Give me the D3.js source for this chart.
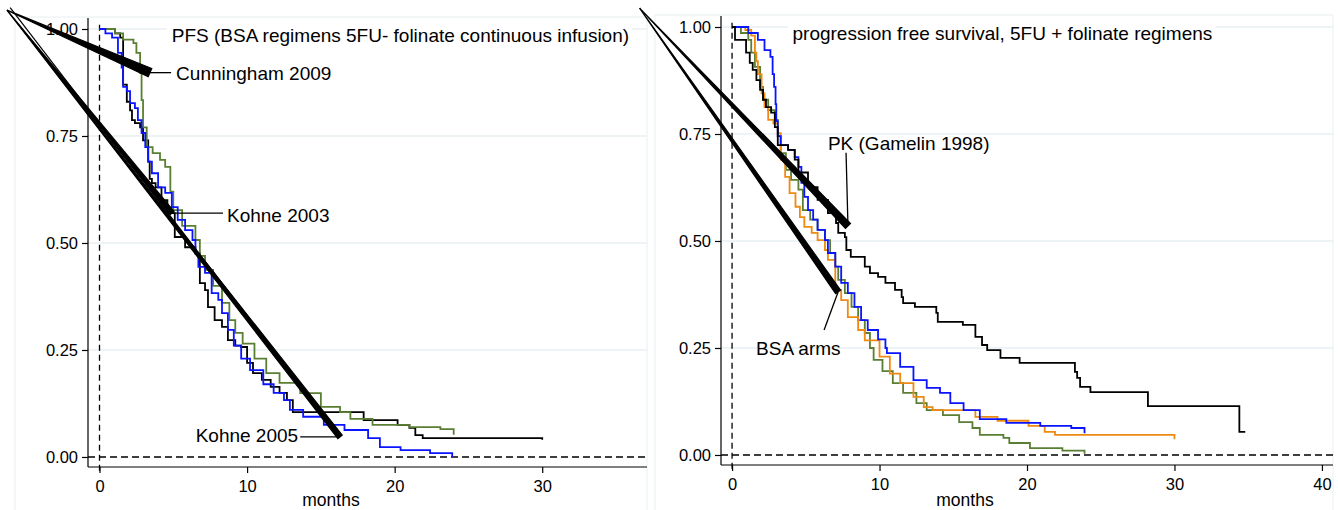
<!DOCTYPE html>
<html>
<head>
<meta charset="utf-8">
<script src="https://cdn.jsdelivr.net/npm/d3@7"></script>
<style>
  body { margin: 0; background: #fff; }
  svg { display: block; font-family: "Liberation Sans", Arial, sans-serif; }
</style>
</head>
<body>
<div id="chart"></div>
<script>
// ---- data (months, survival proportion) ----
const leftBlack = [[0,1],[1.05,0.99],[1.4,0.98],[1.6,0.87],[1.85,0.83],[2.07,0.81],[2.2,0.787],[2.4,0.78],[2.75,0.77],[2.95,0.74],
  [3.3,0.69],[3.4,0.65],[3.55,0.64],[3.8,0.63],[4.2,0.6],[4.6,0.57],[5.1,0.514],[5.8,0.49],[6.5,0.476],[6.8,0.406],[7.15,0.39],
  [7.35,0.35],[7.8,0.32],[8.3,0.304],[8.7,0.273],[9.2,0.26],[9.6,0.257],[10.0,0.22],[10.4,0.196],[11.0,0.18],[11.6,0.164],
  [12.2,0.15],[12.7,0.133],[13.1,0.105],[17.9,0.086],[20.2,0.075],[21.0,0.068],[21.4,0.051],[21.9,0.044],[30,0.04]];
const leftBlue = [[0,1],[0.4,0.99],[0.85,0.98],[1.25,0.944],[1.5,0.91],[1.6,0.865],[1.85,0.855],[2.07,0.827],[2.4,0.815],[2.6,0.787],
  [2.85,0.757],[3.1,0.724],[3.3,0.69],[3.55,0.663],[3.97,0.63],[4.45,0.617],[4.9,0.584],[5.3,0.554],[5.8,0.53],[6.3,0.507],
  [6.5,0.476],[6.7,0.444],[7.15,0.43],[7.6,0.383],[8.05,0.367],[8.3,0.336],[8.7,0.297],[9.1,0.26],[9.6,0.23],[10.2,0.203],
  [11.1,0.17],[11.8,0.15],[12.5,0.133],[12.9,0.11],[13.8,0.094],[15.2,0.075],[16.6,0.063],[18.2,0.044],[19,0.023],
  [20.4,0.016],[22.4,0.009],[23.9,0]];
const leftGreen = [[0,1],[1.05,0.99],[1.6,0.975],[2.3,0.967],[2.5,0.944],[2.75,0.897],[2.85,0.834],[2.95,0.77],[3.2,0.724],
  [3.6,0.71],[4.1,0.694],[4.45,0.678],[4.8,0.62],[5.0,0.577],[5.6,0.54],[6.5,0.507],[6.8,0.47],[7.15,0.437],[7.7,0.4],
  [8.3,0.36],[8.8,0.32],[9.2,0.29],[9.7,0.265],[10.5,0.23],[11.3,0.196],[12.2,0.173],[13.6,0.149],[15,0.117],[16.3,0.105],
  [17,0.089],[18.5,0.075],[21,0.07],[23.1,0.065],[24,0.052]];

const rightBlack = [[0,1],[0.2,0.97],[0.95,0.94],[1.2,0.916],[1.4,0.9],[1.65,0.876],[1.9,0.853],[2.1,0.83],[2.3,0.813],[2.65,0.8],
  [2.9,0.766],[3.1,0.724],[3.8,0.713],[4.25,0.69],[4.5,0.66],[5.15,0.626],[5.8,0.596],[6.5,0.565],[7.05,0.542],[7.2,0.519],
  [7.65,0.509],[7.75,0.479],[8.05,0.463],[9.0,0.44],[9.35,0.425],[9.9,0.416],[10.4,0.402],[11.05,0.386],[11.5,0.369],
  [11.6,0.355],[12.4,0.346],[13.85,0.332],[13.95,0.311],[15.65,0.304],[16.5,0.276],[16.95,0.257],[17.3,0.245],
  [18.2,0.227],[19.5,0.215],[23.25,0.194],[23.4,0.18],[23.6,0.159],[24.3,0.147],[28.2,0.114],[34.4,0.054],[34.8,0.054]];
const rightBlue = [[0,1],[1.1,0.986],[1.75,0.97],[2.2,0.946],[2.6,0.93],[2.75,0.89],[2.85,0.86],[2.95,0.82],[3.0,0.78],
  [3.1,0.745],[3.3,0.724],[3.8,0.713],[4.25,0.696],[4.5,0.673],[4.7,0.636],[4.9,0.603],[5.15,0.572],[5.5,0.55],[5.8,0.526],
  [6.3,0.502],[6.5,0.472],[7.0,0.44],[7.4,0.402],[7.85,0.378],[8.3,0.346],[8.75,0.315],[9.2,0.292],[9.9,0.27],[10.4,0.25],
  [10.5,0.238],[11.4,0.206],[12.3,0.175],[13.2,0.157],[14.1,0.145],[14.8,0.121],[15.7,0.105],[16.8,0.084],[18.6,0.075],
  [20.9,0.068],[23.0,0.063],[23.9,0.051]];
const rightOrange = [[0,1],[0.9,0.993],[1.3,0.98],[1.55,0.94],[1.65,0.92],[1.75,0.89],[2.0,0.845],[2.2,0.813],[2.45,0.783],
  [2.8,0.775],[3.1,0.752],[3.3,0.69],[3.6,0.65],[3.9,0.612],[4.3,0.58],[4.6,0.556],[4.9,0.533],[5.4,0.519],[5.8,0.502],
  [6.3,0.479],[6.5,0.456],[7.0,0.386],[7.4,0.362],[7.85,0.322],[8.55,0.292],[9.0,0.268],[10.0,0.23],[10.7,0.19],
  [11.4,0.168],[12.3,0.136],[13.0,0.112],[13.6,0.105],[16.5,0.089],[18,0.08],[20.1,0.068],[21.2,0.054],[21.9,0.047],[30,0.037]];
const rightGreen = [[0,1],[0.6,0.986],[1.1,0.97],[1.3,0.94],[1.55,0.907],[1.9,0.86],[2.1,0.83],[2.45,0.806],[2.9,0.783],
  [3.1,0.745],[3.3,0.705],[3.65,0.666],[4.0,0.643],[4.5,0.62],[4.8,0.572],[5.3,0.55],[5.8,0.526],[6.3,0.502],[6.65,0.472],
  [7.0,0.44],[7.2,0.409],[7.65,0.378],[8.1,0.346],[8.55,0.315],[9.0,0.285],[9.35,0.25],[9.6,0.222],[10.2,0.196],
  [10.9,0.168],[11.6,0.145],[12.5,0.121],[13.2,0.105],[14.3,0.093],[15.4,0.077],[16.3,0.063],[16.8,0.047],[18.4,0.04],
  [18.8,0.028],[20.2,0.016],[22.4,0.01],[23.9,0.003]];

const yTicks = [0, 0.25, 0.5, 0.75, 1];
const leftXTicks = [0, 10, 20, 30];
const rightXTicks = [0, 10, 20, 30, 40];

// annotations: arrow tip (t, s) and label anchor
const wedgeOrigin = [-6.27, 1.044];
const leftNotes = [
  {label: "Cunningham 2009", tip: [3.42, 0.898], lead: [4.85, 0.898], text: [5.19, 0.881], anchor: "start", w: 9, twin: 0},
  {label: "Kohne 2003", tip: [4.92, 0.57], lead: [8.37, 0.57], text: [8.64, 0.549], anchor: "start", w: 5, twin: 0},
  {label: "Kohne 2005", tip: [16.3, 0.047], lead: [13.6, 0.047], text: [13.46, 0.035], anchor: "end", w: 5.5, twin: 4}
];
const rightNotes = [
  {label: "PK (Gamelin 1998)", tip: [7.86, 0.535], lead: [7.73, 0.706], text: [6.5, 0.713], anchor: "start", w: 7, twin: 0},
  {label: "BSA arms", tip: [7.19, 0.381], lead: [6.24, 0.292], text: [1.63, 0.234], anchor: "start", w: 6, twin: 0}
];

const colors = {black: "#000000", blue: "#0a14ff", green: "#5a7f32", orange: "#ee8a12"};
const grid = "#e8f0f2";

const svg = d3.select("#chart").append("svg")
    .attr("width", 1338)
    .attr("height", 510);

function panel(cfg) {
  const x = d3.scaleLinear().domain(cfg.xDomain).range(cfg.xRange);
  const y = d3.scaleLinear().domain([-0.0234, 1.0257]).range([cfg.yBottom + 10, cfg.yBottom - 439]);
  const g = svg.append("g");

  // faint graph-region frame
  g.append("rect")
      .attr("x", cfg.frameX).attr("y", y.range()[1] - 1)
      .attr("width", cfg.xRange[1] - cfg.frameX).attr("height", 520)
      .attr("fill", "none").attr("stroke", grid).attr("stroke-width", 1);

  // grid lines
  g.selectAll(".grid").data(yTicks.filter(d => d > 0)).enter().append("line")
      .attr("x1", cfg.xRange[0]).attr("x2", cfg.xRange[1])
      .attr("y1", d => y(d)).attr("y2", d => y(d))
      .attr("stroke", grid).attr("stroke-width", 1.5);

  // reference lines
  g.append("line")
      .attr("x1", x(0)).attr("x2", x(0))
      .attr("y1", y(1.01)).attr("y2", y.range()[0] + 7)
      .attr("stroke", "#000").attr("stroke-width", 1.3).attr("stroke-dasharray", "6,4");
  g.append("line")
      .attr("x1", cfg.xRange[0]).attr("x2", cfg.xRange[1])
      .attr("y1", y(0)).attr("y2", y(0))
      .attr("stroke", "#000").attr("stroke-width", 1.3).attr("stroke-dasharray", "7,4");

  // survival curves
  const line = d3.line()
      .x(d => x(d[0]))
      .y(d => y(d[1]))
      .curve(d3.curveStepAfter);
  cfg.series.forEach(s => {
    g.append("path")
        .attr("d", line(s.data))
        .attr("fill", "none")
        .attr("stroke", s.color)
        .attr("stroke-width", 1.8);
  });

  // title with white box
  const title = g.append("text")
      .attr("x", x(cfg.titleAt[0])).attr("y", y(cfg.titleAt[1]))
      .attr("font-size", 19)
      .text(cfg.title);
  const bb = title.node().getBBox();
  g.insert("rect", "text")
      .attr("x", bb.x - 5).attr("y", bb.y - 1)
      .attr("width", bb.width + 8).attr("height", bb.height + 2)
      .attr("fill", "#fff");

  // annotation wedges (arrowheads stretched back to the corner)
  cfg.notes.forEach(n => {
    const ox = x(wedgeOrigin[0]), oy = y(wedgeOrigin[1]);
    const tx = x(n.tip[0]), ty = y(n.tip[1]);
    const len = Math.hypot(tx - ox, ty - oy);
    const ux = -(ty - oy) / len, uy = (tx - ox) / len;
    const px = ux * n.w / 2, py = uy * n.w / 2;
    g.append("polygon")
        .attr("points", [[ox, oy], [tx + px, ty + py], [tx - px, ty - py]].map(p => p.join(",")).join(" "))
        .attr("fill", "#000")
        .attr("stroke", "#000")
        .attr("stroke-width", 1.2)
        .attr("stroke-linejoin", "miter");
    if (n.twin) {
      g.append("line")
          .attr("x1", ox - ux * n.twin).attr("y1", oy - uy * n.twin)
          .attr("x2", tx).attr("y2", ty)
          .attr("stroke", "#000").attr("stroke-width", 1.2);
    }
    g.append("line")
        .attr("x1", tx).attr("y1", ty)
        .attr("x2", x(n.lead[0])).attr("y2", y(n.lead[1]))
        .attr("stroke", "#000").attr("stroke-width", 1.3);
    g.append("text")
        .attr("x", x(n.text[0])).attr("y", y(n.text[1]))
        .attr("text-anchor", n.anchor)
        .attr("font-size", 19)
        .text(n.label);
  });

  // axes
  const yAxis = d3.axisLeft(y).tickValues(yTicks).tickFormat(d3.format(".2f")).tickSize(6).tickPadding(4);
  const xAxis = d3.axisBottom(x).tickValues(cfg.xTicks).tickSize(6).tickPadding(7);
  const ya = g.append("g").attr("transform", `translate(${cfg.xRange[0]},0)`).call(yAxis);
  const xa = g.append("g").attr("transform", `translate(0,${y.range()[0]})`).call(xAxis);
  [ya, xa].forEach(a => {
    a.select(".domain").attr("stroke", "#000").attr("stroke-width", 1.2);
    a.selectAll(".tick line").attr("stroke", "#000").attr("stroke-width", 1.2);
    a.selectAll(".tick text").attr("font-size", 16.5).attr("fill", "#000").attr("font-family", "Liberation Sans, Arial, sans-serif");
  });
  ya.select(".domain").attr("d", `M0,${y.range()[1]}V${y.range()[0]}`);
  xa.select(".domain").attr("d", `M${cfg.xRange[0]},0H${cfg.xRange[1]}`);

  g.append("text")
      .attr("x", cfg.monthsX).attr("y", 506)
      .attr("text-anchor", "middle")
      .attr("font-size", 17.5)
      .text("months");
}

panel({
  xDomain: [-0.78, 37.1], xRange: [88, 647], yBottom: 457, frameX: 15,
  xTicks: leftXTicks,
  series: [
    {data: leftBlack, color: colors.black},
    {data: leftGreen, color: colors.green},
    {data: leftBlue, color: colors.blue}
  ],
  title: "PFS (BSA regimens 5FU- folinate continuous infusion)", titleAt: [4.9, 0.969],
  notes: leftNotes, monthsX: 331
});

panel({
  xDomain: [-0.75, 40.75], xRange: [721, 1333], yBottom: 455, frameX: 655,
  xTicks: rightXTicks,
  series: [
    {data: rightGreen, color: colors.green},
    {data: rightOrange, color: colors.orange},
    {data: rightBlue, color: colors.blue},
    {data: rightBlack, color: colors.black}
  ],
  title: "progression free survival, 5FU + folinate regimens", titleAt: [4.1, 0.97],
  notes: rightNotes, monthsX: 965
});
</script>
</body>
</html>
